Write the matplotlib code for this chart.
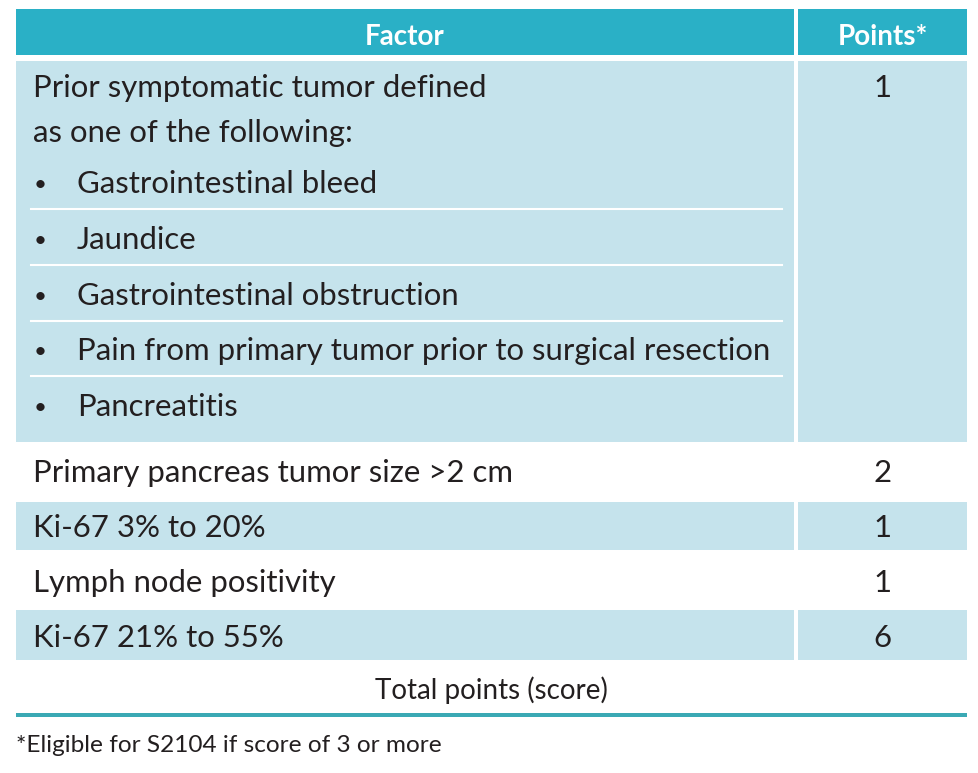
import matplotlib
matplotlib.use("Agg")
import matplotlib.pyplot as plt
from matplotlib.patches import Rectangle

# table content
header = ["Factor", "Points*"]
intro_lines = ["Prior symptomatic tumor defined", "as one of the following:"]
symptoms = [
    "Gastrointestinal bleed",
    "Jaundice",
    "Gastrointestinal obstruction",
    "Pain from primary tumor prior to surgical resection",
    "Pancreatitis",
]
symptom_points = 1
factors = [
    "Primary pancreas tumor size >2 cm",
    "Ki-67 3% to 20%",
    "Lymph node positivity",
    "Ki-67 21% to 55%",
]
points = [2, 1, 1, 6]
total_label = "Total points (score)"
footnote = "*Eligible for S2104 if score of 3 or more"

TEAL = "#2AB0C6"
LIGHT = "#C5E3EC"
RULE = "#3AA9B4"
INK = "#231F20"
FONT = "Lato"
FS = 22.4

fig = plt.figure(figsize=(9.79, 7.73), dpi=100)
ax = fig.add_axes([0, 0, 1, 1])
ax.set_xlim(0, 979)
ax.set_ylim(773, 0)
ax.axis("off")

x0, x1, x2, x3 = 16, 794, 798, 967
pts_cx = (x2 + x3) / 2


def cell(xa, xb, ya, yb, color):
    ax.add_patch(Rectangle((xa, ya), xb - xa, yb - ya, facecolor=color, edgecolor="none"))


def put(x, y, s, ha="left", **kw):
    kw.setdefault("fontsize", FS)
    kw.setdefault("color", INK)
    ax.text(x, y, s, ha=ha, va="baseline", family=FONT, **kw)


# header
cell(x0, x1, 9, 55, TEAL)
cell(x2, x3, 9, 55, TEAL)
put((x0 + x1) / 2, 45, header[0], ha="center", color="white", fontsize=20, fontweight="bold")
put(pts_cx, 45, header[1], ha="center", color="white", fontsize=20, fontweight="bold")

# symptomatic block
cell(x0, x1, 61, 442, LIGHT)
cell(x2, x3, 61, 442, LIGHT)
for i, line in enumerate(intro_lines):
    put(33, 97 + i * 45, line)
put(pts_cx, 97, str(symptom_points), ha="center")

row_h = 55.8
for i, s in enumerate(symptoms):
    yb = 193 + i * row_h
    ax.text(40, yb - 8, "\u2022", ha="center", va="center", family=FONT, fontsize=16, color=INK)
    put(77, yb, s)
    if i < len(symptoms) - 1:
        ax.plot([31, 782], [yb + 16, yb + 16], color="white", lw=1.5)

# remaining factor rows
row_tops = [442, 501, 551, 609]
row_bots = [501, 551, 609, 661]
baselines = [482, 537, 592, 647]
for i, (f, p) in enumerate(zip(factors, points)):
    ya, yb = row_tops[i], row_bots[i]
    if i % 2 == 1:
        cell(x0, x1, ya + 1, yb - 1, LIGHT)
        cell(x2, x3, ya + 1, yb - 1, LIGHT)
    put(33, baselines[i], f)
    put(pts_cx, baselines[i], str(p), ha="center")

# total row and closing rule
put((x0 + x3) / 2, 699, total_label, ha="center", fontsize=20)
ax.add_patch(Rectangle((x0, 713), x3 - x0, 4, facecolor=RULE, edgecolor="none"))

put(16, 752, footnote, fontsize=17.6)

fig.savefig("out.png", dpi=100)
